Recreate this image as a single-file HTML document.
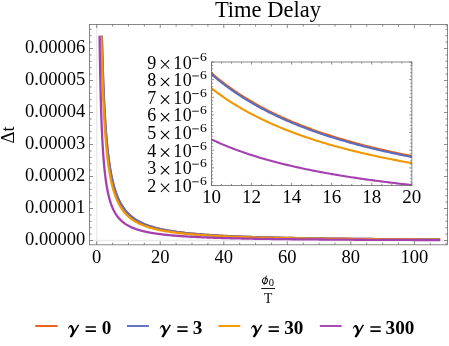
<!DOCTYPE html>
<html><head><meta charset="utf-8"><title>Time Delay</title>
<style>.ls{font-family:"Liberation Serif",serif;}html,body{margin:0;padding:0;background:#fff;}body{width:449px;height:346px;overflow:hidden;position:relative;font-family:"Liberation Serif",serif;}</style></head>
<body>
<svg width="449" height="346" viewBox="0 0 449 346" style="position:absolute;left:0;top:0;will-change:transform">
<rect x="0" y="0" width="449" height="346" fill="#fff"/>
<line x1="96.70" y1="24.5" x2="96.70" y2="244.8" stroke="#e9e9e9" stroke-width="1.3"/>
<line x1="89.5" y1="240.50" x2="447.5" y2="240.50" stroke="#e9e9e9" stroke-width="1.3"/>
<clipPath id="cm"><rect x="89.5" y="35.70" width="358.0" height="209.10"/></clipPath>
<g clip-path="url(#cm)" fill="none" stroke-width="2.3" stroke-linejoin="round">
<path d="M98.29,-438.50 L98.31,-429.52 L98.33,-420.66 L98.35,-411.91 L98.38,-403.26 L98.40,-394.73 L98.42,-386.30 L98.45,-377.98 L98.47,-369.75 L98.49,-361.64 L98.52,-353.62 L98.54,-345.71 L98.57,-337.89 L98.59,-330.17 L98.62,-322.55 L98.64,-315.02 L98.67,-307.59 L98.70,-300.26 L98.72,-293.01 L98.75,-285.86 L98.78,-278.79 L98.81,-271.82 L98.84,-264.93 L98.86,-258.13 L98.89,-251.42 L98.92,-244.79 L98.95,-238.25 L98.98,-231.79 L99.01,-225.41 L99.05,-219.11 L99.08,-212.90 L99.11,-206.76 L99.14,-200.70 L99.18,-194.72 L99.21,-188.81 L99.24,-182.98 L99.28,-177.23 L99.31,-171.55 L99.35,-165.94 L99.38,-160.40 L99.42,-154.94 L99.46,-149.54 L99.49,-144.21 L99.53,-138.96 L99.57,-133.77 L99.61,-128.64 L99.65,-123.59 L99.69,-118.60 L99.73,-113.67 L99.77,-108.81 L99.81,-104.01 L99.85,-99.27 L99.90,-94.60 L99.94,-89.98 L99.98,-85.43 L100.03,-80.93 L100.07,-76.49 L100.12,-72.11 L100.16,-67.79 L100.21,-63.53 L100.26,-59.32 L100.31,-55.16 L100.36,-51.06 L100.40,-47.01 L100.45,-43.02 L100.51,-39.08 L100.56,-35.19 L100.61,-31.35 L100.66,-27.56 L100.72,-23.83 L100.77,-20.14 L100.83,-16.50 L100.88,-12.91 L100.94,-9.36 L100.99,-5.87 L101.05,-2.41 L101.11,0.99 L101.17,4.35 L101.23,7.67 L101.29,10.94 L101.36,14.16 L101.42,17.35 L101.48,20.49 L101.55,23.59 L101.61,26.65 L101.68,29.67 L101.75,32.65 L101.81,35.59 L101.88,38.49 L101.95,41.35 L102.03,44.17 L102.10,46.95 L102.17,49.70 L102.24,52.41 L102.32,55.08 L102.40,57.72 L102.47,60.32 L102.55,62.88 L102.63,65.41 L102.71,67.91 L102.79,70.38 L102.87,72.81 L102.96,75.20 L103.04,77.57 L103.13,79.90 L103.21,82.20 L103.30,84.47 L103.39,86.71 L103.48,88.92 L103.57,91.10 L103.67,93.25 L103.76,95.37 L103.86,97.46 L103.95,99.52 L104.05,101.55 L104.15,103.56 L104.25,105.53 L104.35,107.49 L104.46,109.41 L104.56,111.31 L104.67,113.18 L104.78,115.03 L104.89,116.85 L105.00,118.64 L105.11,120.41 L105.22,122.16 L105.34,123.88 L105.46,125.58 L105.57,127.25 L105.69,128.91 L105.82,130.53 L105.94,132.14 L106.06,133.72 L106.19,135.29 L106.32,136.83 L106.45,138.35 L106.58,139.84 L106.72,141.32 L106.85,142.78 L106.99,144.21 L107.13,145.63 L107.27,147.02 L107.41,148.40 L107.56,149.76 L107.70,151.09 L107.85,152.41 L108.00,153.71 L108.16,155.00 L108.31,156.26 L108.47,157.51 L108.63,158.74 L108.79,159.95 L108.95,161.14 L109.12,162.32 L109.29,163.48 L109.46,164.63 L109.63,165.75 L109.80,166.87 L109.98,167.96 L110.16,169.04 L110.34,170.11 L110.53,171.16 L110.72,172.20 L110.90,173.22 L111.10,174.22 L111.29,175.22 L111.49,176.19 L111.69,177.16 L111.89,178.11 L112.10,179.04 L112.31,179.97 L112.52,180.88 L112.73,181.78 L112.95,182.66 L113.17,183.53 L113.39,184.39 L113.62,185.24 L113.85,186.07 L114.08,186.90 L114.31,187.71 L114.55,188.51 L114.79,189.30 L115.04,190.07 L115.29,190.84 L115.54,191.59 L115.79,192.34 L116.05,193.07 L116.31,193.79 L116.58,194.50 L116.85,195.20 L117.12,195.89 L117.40,196.58 L117.68,197.25 L117.96,197.91 L118.25,198.56 L118.54,199.20 L118.83,199.84 L119.13,200.46 L119.44,201.07 L119.75,201.68 L120.06,202.28 L120.37,202.87 L120.69,203.44 L121.02,204.02 L121.35,204.58 L121.68,205.13 L122.02,205.68 L122.36,206.22 L122.71,206.75 L123.06,207.27 L123.42,207.79 L123.78,208.29 L124.14,208.79 L124.52,209.29 L124.89,209.77 L125.27,210.25 L125.66,210.72 L126.05,211.18 L126.45,211.64 L126.85,212.09 L127.26,212.54 L127.67,212.97 L128.09,213.40 L128.52,213.83 L128.95,214.25 L129.38,214.66 L129.83,215.07 L130.28,215.46 L130.73,215.86 L131.19,216.25 L131.66,216.63 L132.13,217.01 L132.61,217.38 L133.09,217.74 L133.59,218.10 L134.09,218.46 L134.59,218.81 L135.11,219.15 L135.62,219.49 L136.15,219.82 L136.69,220.15 L137.23,220.48 L137.77,220.79 L138.33,221.11 L138.89,221.42 L139.46,221.72 L140.04,222.02 L140.63,222.32 L141.22,222.61 L141.83,222.90 L142.44,223.18 L143.06,223.46 L143.68,223.73 L144.32,224.01 L144.96,224.27 L145.62,224.53 L146.28,224.79 L146.95,225.05 L147.63,225.30 L148.32,225.54 L149.02,225.79 L149.72,226.03 L150.44,226.26 L151.17,226.49 L151.91,226.72 L152.65,226.95 L153.41,227.17 L154.18,227.39 L154.96,227.60 L155.74,227.82 L156.54,228.02 L157.35,228.23 L158.17,228.43 L159.01,228.63 L159.85,228.83 L160.70,229.02 L161.57,229.21 L162.45,229.40 L163.34,229.58 L164.24,229.77 L165.15,229.95 L166.08,230.12 L167.02,230.30 L167.97,230.47 L168.93,230.64 L169.91,230.80 L170.90,230.97 L171.90,231.13 L172.92,231.29 L173.95,231.44 L175.00,231.60 L176.06,231.75 L177.13,231.90 L178.22,232.05 L179.32,232.19 L180.44,232.33 L181.58,232.47 L182.72,232.61 L183.89,232.75 L185.07,232.88 L186.26,233.02 L187.47,233.15 L188.70,233.28 L189.95,233.40 L191.21,233.53 L192.49,233.65 L193.78,233.77 L195.10,233.89 L196.43,234.01 L197.78,234.12 L199.15,234.24 L200.53,234.35 L201.94,234.46 L203.36,234.57 L204.81,234.68 L206.27,234.78 L207.75,234.89 L209.25,234.99 L210.78,235.09 L212.32,235.19 L213.88,235.29 L215.47,235.39 L217.08,235.48 L218.71,235.58 L220.36,235.67 L222.03,235.76 L223.73,235.85 L225.45,235.93 L227.19,236.02 L228.95,236.10 L230.74,236.18 L232.56,236.26 L234.39,236.33 L236.26,236.41 L238.15,236.48 L240.06,236.56 L242.00,236.63 L243.97,236.70 L245.96,236.77 L247.98,236.84 L250.03,236.90 L252.10,236.97 L254.20,237.04 L256.33,237.10 L258.49,237.16 L260.68,237.23 L262.90,237.29 L265.15,237.35 L267.43,237.41 L269.74,237.47 L272.08,237.52 L274.46,237.58 L276.86,237.63 L279.30,237.69 L281.77,237.74 L284.27,237.80 L286.81,237.85 L289.38,237.90 L291.99,237.95 L294.63,238.00 L297.31,238.05 L300.03,238.09 L302.78,238.14 L305.57,238.19 L308.39,238.23 L311.26,238.28 L314.16,238.32 L317.10,238.37 L320.09,238.41 L323.11,238.45 L326.17,238.49 L329.28,238.53 L332.42,238.57 L335.61,238.61 L338.85,238.65 L342.12,238.69 L345.44,238.72 L348.81,238.76 L352.22,238.80 L355.68,238.83 L359.18,238.87 L362.73,238.90 L366.33,238.94 L369.98,238.97 L373.68,239.00 L377.43,239.03 L381.23,239.06 L385.08,239.10 L388.98,239.13 L392.93,239.16 L396.94,239.19 L401.00,239.21 L405.12,239.24 L409.30,239.27 L413.53,239.30 L417.81,239.33 L422.16,239.35 L426.56,239.38 L431.02,239.40 L435.55,239.43 L440.13,239.45" stroke="#E65C0E"/>
<path d="M98.29,-453.71 L98.31,-444.44 L98.33,-435.29 L98.35,-426.25 L98.38,-417.33 L98.40,-408.52 L98.42,-399.83 L98.45,-391.24 L98.47,-382.76 L98.49,-374.38 L98.52,-366.12 L98.54,-357.95 L98.57,-349.89 L98.59,-341.94 L98.62,-334.08 L98.64,-326.33 L98.67,-318.67 L98.70,-311.11 L98.72,-303.64 L98.75,-296.28 L98.78,-289.00 L98.81,-281.82 L98.84,-274.73 L98.86,-267.73 L98.89,-260.82 L98.92,-254.00 L98.95,-247.27 L98.98,-240.62 L99.01,-234.06 L99.05,-227.58 L99.08,-221.19 L99.11,-214.88 L99.14,-208.65 L99.18,-202.50 L99.21,-196.43 L99.24,-190.44 L99.28,-184.52 L99.31,-178.69 L99.35,-172.93 L99.38,-167.24 L99.42,-161.63 L99.46,-156.09 L99.49,-150.62 L99.53,-145.22 L99.57,-139.90 L99.61,-134.64 L99.65,-129.45 L99.69,-124.33 L99.73,-119.28 L99.77,-114.29 L99.81,-109.37 L99.85,-104.51 L99.90,-99.72 L99.94,-94.99 L99.98,-90.32 L100.03,-85.71 L100.07,-81.16 L100.12,-76.68 L100.16,-72.25 L100.21,-67.88 L100.26,-63.57 L100.31,-59.32 L100.36,-55.12 L100.40,-50.98 L100.45,-46.89 L100.51,-42.86 L100.56,-38.88 L100.61,-34.95 L100.66,-31.08 L100.72,-27.25 L100.77,-23.48 L100.83,-19.76 L100.88,-16.09 L100.94,-12.47 L100.99,-8.89 L101.05,-5.37 L101.11,-1.89 L101.17,1.55 L101.23,4.93 L101.29,8.27 L101.36,11.57 L101.42,14.82 L101.48,18.03 L101.55,21.19 L101.61,24.32 L101.68,27.40 L101.75,30.43 L101.81,33.43 L101.88,36.39 L101.95,39.30 L102.03,42.18 L102.10,45.02 L102.17,47.82 L102.24,50.58 L102.32,53.30 L102.40,55.99 L102.47,58.64 L102.55,61.26 L102.63,63.83 L102.71,66.38 L102.79,68.89 L102.87,71.36 L102.96,73.80 L103.04,76.21 L103.13,78.58 L103.21,80.92 L103.30,83.23 L103.39,85.51 L103.48,87.76 L103.57,89.97 L103.67,92.16 L103.76,94.31 L103.86,96.44 L103.95,98.53 L104.05,100.60 L104.15,102.64 L104.25,104.65 L104.35,106.63 L104.46,108.58 L104.56,110.51 L104.67,112.41 L104.78,114.28 L104.89,116.13 L105.00,117.95 L105.11,119.75 L105.22,121.52 L105.34,123.27 L105.46,124.99 L105.57,126.69 L105.69,128.37 L105.82,130.02 L105.94,131.65 L106.06,133.25 L106.19,134.83 L106.32,136.40 L106.45,137.93 L106.58,139.45 L106.72,140.95 L106.85,142.42 L106.99,143.88 L107.13,145.31 L107.27,146.72 L107.41,148.12 L107.56,149.49 L107.70,150.84 L107.85,152.18 L108.00,153.49 L108.16,154.79 L108.31,156.07 L108.47,157.33 L108.63,158.57 L108.79,159.80 L108.95,161.00 L109.12,162.20 L109.29,163.37 L109.46,164.53 L109.63,165.67 L109.80,166.79 L109.98,167.90 L110.16,168.99 L110.34,170.06 L110.53,171.12 L110.72,172.17 L110.90,173.20 L111.10,174.22 L111.29,175.22 L111.49,176.20 L111.69,177.18 L111.89,178.13 L112.10,179.08 L112.31,180.01 L112.52,180.93 L112.73,181.83 L112.95,182.72 L113.17,183.60 L113.39,184.47 L113.62,185.32 L113.85,186.16 L114.08,186.99 L114.31,187.81 L114.55,188.61 L114.79,189.41 L115.04,190.19 L115.29,190.96 L115.54,191.72 L115.79,192.47 L116.05,193.20 L116.31,193.93 L116.58,194.64 L116.85,195.35 L117.12,196.05 L117.40,196.73 L117.68,197.40 L117.96,198.07 L118.25,198.72 L118.54,199.37 L118.83,200.01 L119.13,200.63 L119.44,201.25 L119.75,201.86 L120.06,202.46 L120.37,203.05 L120.69,203.63 L121.02,204.20 L121.35,204.77 L121.68,205.32 L122.02,205.87 L122.36,206.41 L122.71,206.94 L123.06,207.47 L123.42,207.98 L123.78,208.49 L124.14,208.99 L124.52,209.49 L124.89,209.97 L125.27,210.45 L125.66,210.92 L126.05,211.39 L126.45,211.85 L126.85,212.30 L127.26,212.74 L127.67,213.18 L128.09,213.61 L128.52,214.04 L128.95,214.46 L129.38,214.87 L129.83,215.27 L130.28,215.67 L130.73,216.07 L131.19,216.46 L131.66,216.84 L132.13,217.21 L132.61,217.58 L133.09,217.95 L133.59,218.31 L134.09,218.66 L134.59,219.01 L135.11,219.36 L135.62,219.70 L136.15,220.03 L136.69,220.36 L137.23,220.68 L137.77,221.00 L138.33,221.31 L138.89,221.62 L139.46,221.93 L140.04,222.23 L140.63,222.52 L141.22,222.81 L141.83,223.10 L142.44,223.38 L143.06,223.66 L143.68,223.93 L144.32,224.20 L144.96,224.47 L145.62,224.73 L146.28,224.98 L146.95,225.24 L147.63,225.49 L148.32,225.73 L149.02,225.97 L149.72,226.21 L150.44,226.45 L151.17,226.68 L151.91,226.91 L152.65,227.13 L153.41,227.35 L154.18,227.57 L154.96,227.78 L155.74,227.99 L156.54,228.20 L157.35,228.41 L158.17,228.61 L159.01,228.81 L159.85,229.00 L160.70,229.19 L161.57,229.38 L162.45,229.57 L163.34,229.75 L164.24,229.93 L165.15,230.11 L166.08,230.29 L167.02,230.46 L167.97,230.63 L168.93,230.80 L169.91,230.96 L170.90,231.12 L171.90,231.28 L172.92,231.44 L173.95,231.60 L175.00,231.75 L176.06,231.90 L177.13,232.05 L178.22,232.19 L179.32,232.34 L180.44,232.48 L181.58,232.62 L182.72,232.76 L183.89,232.89 L185.07,233.02 L186.26,233.16 L187.47,233.28 L188.70,233.41 L189.95,233.54 L191.21,233.66 L192.49,233.78 L193.78,233.90 L195.10,234.02 L196.43,234.14 L197.78,234.25 L199.15,234.36 L200.53,234.48 L201.94,234.58 L203.36,234.69 L204.81,234.80 L206.27,234.90 L207.75,235.01 L209.25,235.11 L210.78,235.21 L212.32,235.31 L213.88,235.40 L215.47,235.50 L217.08,235.59 L218.71,235.69 L220.36,235.78 L222.03,235.87 L223.73,235.96 L225.45,236.04 L227.19,236.12 L228.95,236.20 L230.74,236.28 L232.56,236.36 L234.39,236.43 L236.26,236.51 L238.15,236.58 L240.06,236.65 L242.00,236.72 L243.97,236.79 L245.96,236.86 L247.98,236.93 L250.03,237.00 L252.10,237.06 L254.20,237.13 L256.33,237.19 L258.49,237.25 L260.68,237.31 L262.90,237.37 L265.15,237.43 L267.43,237.49 L269.74,237.55 L272.08,237.60 L274.46,237.66 L276.86,237.71 L279.30,237.77 L281.77,237.82 L284.27,237.87 L286.81,237.92 L289.38,237.97 L291.99,238.02 L294.63,238.07 L297.31,238.12 L300.03,238.17 L302.78,238.21 L305.57,238.26 L308.39,238.30 L311.26,238.35 L314.16,238.39 L317.10,238.43 L320.09,238.47 L323.11,238.52 L326.17,238.56 L329.28,238.60 L332.42,238.63 L335.61,238.67 L338.85,238.71 L342.12,238.75 L345.44,238.78 L348.81,238.82 L352.22,238.86 L355.68,238.89 L359.18,238.92 L362.73,238.96 L366.33,238.99 L369.98,239.02 L373.68,239.05 L377.43,239.09 L381.23,239.12 L385.08,239.15 L388.98,239.18 L392.93,239.21 L396.94,239.23 L401.00,239.26 L405.12,239.29 L409.30,239.32 L413.53,239.35 L417.81,239.37 L422.16,239.40 L426.56,239.42 L431.02,239.45 L435.55,239.47 L440.13,239.50" stroke="#5D6DC1"/>
<path d="M98.29,-385.59 L98.31,-377.24 L98.33,-368.99 L98.35,-360.85 L98.38,-352.81 L98.40,-344.88 L98.42,-337.04 L98.45,-329.30 L98.47,-321.66 L98.49,-314.11 L98.52,-306.66 L98.54,-299.31 L98.57,-292.05 L98.59,-284.88 L98.62,-277.80 L98.64,-270.81 L98.67,-263.91 L98.70,-257.09 L98.72,-250.37 L98.75,-243.73 L98.78,-237.17 L98.81,-230.70 L98.84,-224.31 L98.86,-218.00 L98.89,-211.77 L98.92,-205.63 L98.95,-199.56 L98.98,-193.57 L99.01,-187.65 L99.05,-181.82 L99.08,-176.05 L99.11,-170.36 L99.14,-164.75 L99.18,-159.21 L99.21,-153.74 L99.24,-148.33 L99.28,-143.00 L99.31,-137.74 L99.35,-132.55 L99.38,-127.42 L99.42,-122.36 L99.46,-117.37 L99.49,-112.44 L99.53,-107.57 L99.57,-102.77 L99.61,-98.03 L99.65,-93.35 L99.69,-88.74 L99.73,-84.18 L99.77,-79.69 L99.81,-75.25 L99.85,-70.87 L99.90,-66.55 L99.94,-62.28 L99.98,-58.07 L100.03,-53.92 L100.07,-49.82 L100.12,-45.77 L100.16,-41.78 L100.21,-37.84 L100.26,-33.95 L100.31,-30.12 L100.36,-26.33 L100.40,-22.60 L100.45,-18.91 L100.51,-15.28 L100.56,-11.69 L100.61,-8.15 L100.66,-4.65 L100.72,-1.20 L100.77,2.20 L100.83,5.55 L100.88,8.87 L100.94,12.13 L100.99,15.36 L101.05,18.54 L101.11,21.67 L101.17,24.77 L101.23,27.82 L101.29,30.84 L101.36,33.81 L101.42,36.74 L101.48,39.64 L101.55,42.49 L101.61,45.31 L101.68,48.09 L101.75,50.83 L101.81,53.53 L101.88,56.20 L101.95,58.83 L102.03,61.43 L102.10,63.99 L102.17,66.51 L102.24,69.00 L102.32,71.46 L102.40,73.88 L102.47,76.28 L102.55,78.63 L102.63,80.96 L102.71,83.26 L102.79,85.52 L102.87,87.75 L102.96,89.95 L103.04,92.12 L103.13,94.27 L103.21,96.38 L103.30,98.46 L103.39,100.52 L103.48,102.54 L103.57,104.54 L103.67,106.52 L103.76,108.46 L103.86,110.38 L103.95,112.27 L104.05,114.13 L104.15,115.97 L104.25,117.79 L104.35,119.57 L104.46,121.34 L104.56,123.08 L104.67,124.79 L104.78,126.48 L104.89,128.15 L105.00,129.80 L105.11,131.42 L105.22,133.02 L105.34,134.59 L105.46,136.15 L105.57,137.68 L105.69,139.19 L105.82,140.69 L105.94,142.16 L106.06,143.60 L106.19,145.03 L106.32,146.44 L106.45,147.83 L106.58,149.20 L106.72,150.55 L106.85,151.88 L106.99,153.19 L107.13,154.49 L107.27,155.76 L107.41,157.02 L107.56,158.26 L107.70,159.48 L107.85,160.69 L108.00,161.88 L108.16,163.05 L108.31,164.20 L108.47,165.34 L108.63,166.46 L108.79,167.57 L108.95,168.66 L109.12,169.73 L109.29,170.79 L109.46,171.84 L109.63,172.87 L109.80,173.88 L109.98,174.88 L110.16,175.87 L110.34,176.84 L110.53,177.80 L110.72,178.74 L110.90,179.67 L111.10,180.59 L111.29,181.49 L111.49,182.38 L111.69,183.26 L111.89,184.13 L112.10,184.98 L112.31,185.82 L112.52,186.65 L112.73,187.47 L112.95,188.27 L113.17,189.07 L113.39,189.85 L113.62,190.62 L113.85,191.38 L114.08,192.13 L114.31,192.86 L114.55,193.59 L114.79,194.31 L115.04,195.01 L115.29,195.71 L115.54,196.40 L115.79,197.07 L116.05,197.74 L116.31,198.39 L116.58,199.04 L116.85,199.68 L117.12,200.31 L117.40,200.92 L117.68,201.53 L117.96,202.14 L118.25,202.73 L118.54,203.31 L118.83,203.88 L119.13,204.45 L119.44,205.01 L119.75,205.56 L120.06,206.10 L120.37,206.63 L120.69,207.16 L121.02,207.68 L121.35,208.19 L121.68,208.69 L122.02,209.19 L122.36,209.67 L122.71,210.15 L123.06,210.63 L123.42,211.10 L123.78,211.56 L124.14,212.01 L124.52,212.45 L124.89,212.89 L125.27,213.33 L125.66,213.75 L126.05,214.17 L126.45,214.59 L126.85,215.00 L127.26,215.40 L127.67,215.79 L128.09,216.18 L128.52,216.57 L128.95,216.95 L129.38,217.32 L129.83,217.69 L130.28,218.05 L130.73,218.40 L131.19,218.75 L131.66,219.10 L132.13,219.44 L132.61,219.77 L133.09,220.11 L133.59,220.43 L134.09,220.75 L134.59,221.07 L135.11,221.38 L135.62,221.68 L136.15,221.99 L136.69,222.28 L137.23,222.57 L137.77,222.86 L138.33,223.15 L138.89,223.43 L139.46,223.70 L140.04,223.97 L140.63,224.24 L141.22,224.50 L141.83,224.76 L142.44,225.02 L143.06,225.27 L143.68,225.52 L144.32,225.76 L144.96,226.00 L145.62,226.24 L146.28,226.47 L146.95,226.70 L147.63,226.92 L148.32,227.15 L149.02,227.37 L149.72,227.58 L150.44,227.79 L151.17,228.00 L151.91,228.21 L152.65,228.41 L153.41,228.61 L154.18,228.81 L154.96,229.00 L155.74,229.19 L156.54,229.38 L157.35,229.57 L158.17,229.75 L159.01,229.93 L159.85,230.10 L160.70,230.28 L161.57,230.45 L162.45,230.62 L163.34,230.79 L164.24,230.95 L165.15,231.11 L166.08,231.27 L167.02,231.43 L167.97,231.58 L168.93,231.73 L169.91,231.88 L170.90,232.03 L171.90,232.17 L172.92,232.32 L173.95,232.46 L175.00,232.60 L176.06,232.73 L177.13,232.87 L178.22,233.00 L179.32,233.13 L180.44,233.26 L181.58,233.38 L182.72,233.51 L183.89,233.63 L185.07,233.75 L186.26,233.87 L187.47,233.99 L188.70,234.10 L189.95,234.22 L191.21,234.33 L192.49,234.44 L193.78,234.55 L195.10,234.66 L196.43,234.76 L197.78,234.87 L199.15,234.97 L200.53,235.07 L201.94,235.17 L203.36,235.27 L204.81,235.36 L206.27,235.46 L207.75,235.55 L209.25,235.65 L210.78,235.74 L212.32,235.83 L213.88,235.91 L215.47,236.00 L217.08,236.09 L218.71,236.17 L220.36,236.26 L222.03,236.34 L223.73,236.42 L225.45,236.49 L227.19,236.57 L228.95,236.64 L230.74,236.71 L232.56,236.78 L234.39,236.85 L236.26,236.92 L238.15,236.98 L240.06,237.05 L242.00,237.11 L243.97,237.18 L245.96,237.24 L247.98,237.30 L250.03,237.36 L252.10,237.42 L254.20,237.48 L256.33,237.53 L258.49,237.59 L260.68,237.65 L262.90,237.70 L265.15,237.75 L267.43,237.81 L269.74,237.86 L272.08,237.91 L274.46,237.96 L276.86,238.01 L279.30,238.06 L281.77,238.11 L284.27,238.15 L286.81,238.20 L289.38,238.24 L291.99,238.29 L294.63,238.33 L297.31,238.38 L300.03,238.42 L302.78,238.46 L305.57,238.50 L308.39,238.54 L311.26,238.58 L314.16,238.62 L317.10,238.66 L320.09,238.70 L323.11,238.73 L326.17,238.77 L329.28,238.81 L332.42,238.84 L335.61,238.88 L338.85,238.91 L342.12,238.94 L345.44,238.98 L348.81,239.01 L352.22,239.04 L355.68,239.07 L359.18,239.10 L362.73,239.13 L366.33,239.16 L369.98,239.19 L373.68,239.22 L377.43,239.25 L381.23,239.28 L385.08,239.31 L388.98,239.33 L392.93,239.36 L396.94,239.39 L401.00,239.41 L405.12,239.44 L409.30,239.46 L413.53,239.49 L417.81,239.51 L422.16,239.53 L426.56,239.56 L431.02,239.58 L435.55,239.60 L440.13,239.62" stroke="#F19700"/>
<path d="M98.29,-128.14 L98.31,-123.29 L98.33,-118.50 L98.35,-113.77 L98.38,-109.10 L98.40,-104.49 L98.42,-99.93 L98.45,-95.44 L98.47,-90.99 L98.49,-86.61 L98.52,-82.27 L98.54,-77.99 L98.57,-73.77 L98.59,-69.60 L98.62,-65.47 L98.64,-61.41 L98.67,-57.39 L98.70,-53.42 L98.72,-49.50 L98.75,-45.63 L98.78,-41.81 L98.81,-38.04 L98.84,-34.31 L98.86,-30.63 L98.89,-27.00 L98.92,-23.42 L98.95,-19.87 L98.98,-16.38 L99.01,-12.93 L99.05,-9.52 L99.08,-6.15 L99.11,-2.83 L99.14,0.45 L99.18,3.69 L99.21,6.89 L99.24,10.04 L99.28,13.16 L99.31,16.24 L99.35,19.28 L99.38,22.27 L99.42,25.24 L99.46,28.16 L99.49,31.04 L99.53,33.89 L99.57,36.70 L99.61,39.48 L99.65,42.22 L99.69,44.92 L99.73,47.59 L99.77,50.23 L99.81,52.83 L99.85,55.40 L99.90,57.94 L99.94,60.44 L99.98,62.91 L100.03,65.35 L100.07,67.75 L100.12,70.13 L100.16,72.47 L100.21,74.78 L100.26,77.07 L100.31,79.32 L100.36,81.55 L100.40,83.74 L100.45,85.91 L100.51,88.05 L100.56,90.16 L100.61,92.24 L100.66,94.30 L100.72,96.33 L100.77,98.33 L100.83,100.30 L100.88,102.25 L100.94,104.18 L100.99,106.08 L101.05,107.95 L101.11,109.80 L101.17,111.63 L101.23,113.43 L101.29,115.20 L101.36,116.96 L101.42,118.69 L101.48,120.40 L101.55,122.08 L101.61,123.74 L101.68,125.38 L101.75,127.00 L101.81,128.60 L101.88,130.17 L101.95,131.73 L102.03,133.26 L102.10,134.77 L102.17,136.27 L102.24,137.74 L102.32,139.19 L102.40,140.63 L102.47,142.04 L102.55,143.44 L102.63,144.82 L102.71,146.17 L102.79,147.51 L102.87,148.84 L102.96,150.14 L103.04,151.43 L103.13,152.70 L103.21,153.95 L103.30,155.18 L103.39,156.40 L103.48,157.61 L103.57,158.79 L103.67,159.96 L103.76,161.11 L103.86,162.25 L103.95,163.38 L104.05,164.48 L104.15,165.58 L104.25,166.65 L104.35,167.72 L104.46,168.76 L104.56,169.80 L104.67,170.82 L104.78,171.82 L104.89,172.81 L105.00,173.79 L105.11,174.76 L105.22,175.71 L105.34,176.65 L105.46,177.57 L105.57,178.49 L105.69,179.39 L105.82,180.27 L105.94,181.15 L106.06,182.01 L106.19,182.87 L106.32,183.71 L106.45,184.53 L106.58,185.35 L106.72,186.16 L106.85,186.95 L106.99,187.73 L107.13,188.51 L107.27,189.27 L107.41,190.02 L107.56,190.76 L107.70,191.49 L107.85,192.21 L108.00,192.92 L108.16,193.62 L108.31,194.31 L108.47,194.99 L108.63,195.66 L108.79,196.32 L108.95,196.97 L109.12,197.62 L109.29,198.25 L109.46,198.88 L109.63,199.49 L109.80,200.10 L109.98,200.70 L110.16,201.29 L110.34,201.87 L110.53,202.45 L110.72,203.01 L110.90,203.57 L111.10,204.12 L111.29,204.66 L111.49,205.20 L111.69,205.72 L111.89,206.24 L112.10,206.75 L112.31,207.26 L112.52,207.76 L112.73,208.25 L112.95,208.73 L113.17,209.21 L113.39,209.68 L113.62,210.14 L113.85,210.60 L114.08,211.05 L114.31,211.49 L114.55,211.93 L114.79,212.36 L115.04,212.79 L115.29,213.21 L115.54,213.62 L115.79,214.03 L116.05,214.43 L116.31,214.83 L116.58,215.22 L116.85,215.60 L117.12,215.98 L117.40,216.35 L117.68,216.72 L117.96,217.08 L118.25,217.44 L118.54,217.79 L118.83,218.14 L119.13,218.48 L119.44,218.82 L119.75,219.15 L120.06,219.48 L120.37,219.80 L120.69,220.12 L121.02,220.43 L121.35,220.74 L121.68,221.05 L122.02,221.35 L122.36,221.64 L122.71,221.93 L123.06,222.22 L123.42,222.50 L123.78,222.78 L124.14,223.06 L124.52,223.33 L124.89,223.59 L125.27,223.86 L125.66,224.11 L126.05,224.37 L126.45,224.62 L126.85,224.87 L127.26,225.11 L127.67,225.35 L128.09,225.59 L128.52,225.82 L128.95,226.05 L129.38,226.28 L129.83,226.50 L130.28,226.72 L130.73,226.94 L131.19,227.15 L131.66,227.37 L132.13,227.57 L132.61,227.78 L133.09,227.98 L133.59,228.18 L134.09,228.37 L134.59,228.56 L135.11,228.75 L135.62,228.94 L136.15,229.13 L136.69,229.31 L137.23,229.49 L137.77,229.66 L138.33,229.84 L138.89,230.01 L139.46,230.17 L140.04,230.34 L140.63,230.50 L141.22,230.67 L141.83,230.82 L142.44,230.98 L143.06,231.13 L143.68,231.29 L144.32,231.44 L144.96,231.58 L145.62,231.73 L146.28,231.87 L146.95,232.01 L147.63,232.15 L148.32,232.29 L149.02,232.42 L149.72,232.55 L150.44,232.69 L151.17,232.81 L151.91,232.94 L152.65,233.07 L153.41,233.19 L154.18,233.31 L154.96,233.43 L155.74,233.55 L156.54,233.66 L157.35,233.78 L158.17,233.89 L159.01,234.00 L159.85,234.11 L160.70,234.22 L161.57,234.33 L162.45,234.43 L163.34,234.53 L164.24,234.64 L165.15,234.74 L166.08,234.83 L167.02,234.93 L167.97,235.03 L168.93,235.12 L169.91,235.21 L170.90,235.31 L171.90,235.40 L172.92,235.49 L173.95,235.57 L175.00,235.66 L176.06,235.74 L177.13,235.83 L178.22,235.91 L179.32,235.99 L180.44,236.07 L181.58,236.15 L182.72,236.23 L183.89,236.31 L185.07,236.38 L186.26,236.46 L187.47,236.53 L188.70,236.60 L189.95,236.68 L191.21,236.75 L192.49,236.82 L193.78,236.88 L195.10,236.95 L196.43,237.02 L197.78,237.09 L199.15,237.15 L200.53,237.21 L201.94,237.28 L203.36,237.34 L204.81,237.40 L206.27,237.46 L207.75,237.52 L209.25,237.58 L210.78,237.64 L212.32,237.70 L213.88,237.75 L215.47,237.81 L217.08,237.86 L218.71,237.92 L220.36,237.97 L222.03,238.02 L223.73,238.08 L225.45,238.12 L227.19,238.17 L228.95,238.21 L230.74,238.26 L232.56,238.30 L234.39,238.34 L236.26,238.38 L238.15,238.42 L240.06,238.47 L242.00,238.51 L243.97,238.54 L245.96,238.58 L247.98,238.62 L250.03,238.66 L252.10,238.70 L254.20,238.73 L256.33,238.77 L258.49,238.80 L260.68,238.84 L262.90,238.87 L265.15,238.90 L267.43,238.94 L269.74,238.97 L272.08,239.00 L274.46,239.03 L276.86,239.06 L279.30,239.09 L281.77,239.12 L284.27,239.15 L286.81,239.18 L289.38,239.21 L291.99,239.24 L294.63,239.26 L297.31,239.29 L300.03,239.32 L302.78,239.34 L305.57,239.37 L308.39,239.39 L311.26,239.42 L314.16,239.44 L317.10,239.47 L320.09,239.49 L323.11,239.51 L326.17,239.54 L329.28,239.56 L332.42,239.58 L335.61,239.60 L338.85,239.62 L342.12,239.65 L345.44,239.67 L348.81,239.69 L352.22,239.71 L355.68,239.73 L359.18,239.75 L362.73,239.76 L366.33,239.78 L369.98,239.80 L373.68,239.82 L377.43,239.84 L381.23,239.86 L385.08,239.87 L388.98,239.89 L392.93,239.91 L396.94,239.92 L401.00,239.94 L405.12,239.95 L409.30,239.97 L413.53,239.98 L417.81,240.00 L422.16,240.01 L426.56,240.03 L431.02,240.04 L435.55,240.06 L440.13,240.07" stroke="#A541AF"/>
</g>
<rect x="89.5" y="24.5" width="358.0" height="220.3" fill="none" stroke="#666666" stroke-width="0.78"/>
<path d="M96.70,244.8 v-3.5 M96.70,24.5 v3.5 M112.59,244.8 v-2.1 M112.59,24.5 v2.1 M128.47,244.8 v-2.1 M128.47,24.5 v2.1 M144.36,244.8 v-2.1 M144.36,24.5 v2.1 M160.24,244.8 v-3.5 M160.24,24.5 v3.5 M176.12,244.8 v-2.1 M176.12,24.5 v2.1 M192.01,244.8 v-2.1 M192.01,24.5 v2.1 M207.90,244.8 v-2.1 M207.90,24.5 v2.1 M223.78,244.8 v-3.5 M223.78,24.5 v3.5 M239.67,244.8 v-2.1 M239.67,24.5 v2.1 M255.55,244.8 v-2.1 M255.55,24.5 v2.1 M271.44,244.8 v-2.1 M271.44,24.5 v2.1 M287.32,244.8 v-3.5 M287.32,24.5 v3.5 M303.20,244.8 v-2.1 M303.20,24.5 v2.1 M319.09,244.8 v-2.1 M319.09,24.5 v2.1 M334.98,244.8 v-2.1 M334.98,24.5 v2.1 M350.86,244.8 v-3.5 M350.86,24.5 v3.5 M366.75,244.8 v-2.1 M366.75,24.5 v2.1 M382.63,244.8 v-2.1 M382.63,24.5 v2.1 M398.51,244.8 v-2.1 M398.51,24.5 v2.1 M414.40,244.8 v-3.5 M414.40,24.5 v3.5 M430.28,244.8 v-2.1 M430.28,24.5 v2.1 M446.17,244.8 v-2.1 M446.17,24.5 v2.1 M89.5,240.50 h3.5 M447.5,240.50 h-3.5 M89.5,234.10 h2.1 M447.5,234.10 h-2.1 M89.5,227.70 h2.1 M447.5,227.70 h-2.1 M89.5,221.30 h2.1 M447.5,221.30 h-2.1 M89.5,214.90 h2.1 M447.5,214.90 h-2.1 M89.5,208.50 h3.5 M447.5,208.50 h-3.5 M89.5,202.10 h2.1 M447.5,202.10 h-2.1 M89.5,195.70 h2.1 M447.5,195.70 h-2.1 M89.5,189.30 h2.1 M447.5,189.30 h-2.1 M89.5,182.90 h2.1 M447.5,182.90 h-2.1 M89.5,176.50 h3.5 M447.5,176.50 h-3.5 M89.5,170.10 h2.1 M447.5,170.10 h-2.1 M89.5,163.70 h2.1 M447.5,163.70 h-2.1 M89.5,157.30 h2.1 M447.5,157.30 h-2.1 M89.5,150.90 h2.1 M447.5,150.90 h-2.1 M89.5,144.50 h3.5 M447.5,144.50 h-3.5 M89.5,138.10 h2.1 M447.5,138.10 h-2.1 M89.5,131.70 h2.1 M447.5,131.70 h-2.1 M89.5,125.30 h2.1 M447.5,125.30 h-2.1 M89.5,118.90 h2.1 M447.5,118.90 h-2.1 M89.5,112.50 h3.5 M447.5,112.50 h-3.5 M89.5,106.10 h2.1 M447.5,106.10 h-2.1 M89.5,99.70 h2.1 M447.5,99.70 h-2.1 M89.5,93.30 h2.1 M447.5,93.30 h-2.1 M89.5,86.90 h2.1 M447.5,86.90 h-2.1 M89.5,80.50 h3.5 M447.5,80.50 h-3.5 M89.5,74.10 h2.1 M447.5,74.10 h-2.1 M89.5,67.70 h2.1 M447.5,67.70 h-2.1 M89.5,61.30 h2.1 M447.5,61.30 h-2.1 M89.5,54.90 h2.1 M447.5,54.90 h-2.1 M89.5,48.50 h3.5 M447.5,48.50 h-3.5 M89.5,42.10 h2.1 M447.5,42.10 h-2.1 M89.5,35.70 h2.1 M447.5,35.70 h-2.1 M89.5,29.30 h2.1 M447.5,29.30 h-2.1" stroke="#666666" stroke-width="0.75" fill="none"/>
<g class="ls" font-size="18.5" fill="#000">
<text x="96.70" y="263" text-anchor="middle">0</text>
<text x="160.24" y="263" text-anchor="middle">20</text>
<text x="223.78" y="263" text-anchor="middle">40</text>
<text x="287.32" y="263" text-anchor="middle">60</text>
<text x="350.86" y="263" text-anchor="middle">80</text>
<text x="414.40" y="263" text-anchor="middle">100</text>
<text x="85.2" y="245.30" text-anchor="end">0.00000</text>
<text x="85.2" y="213.30" text-anchor="end">0.00001</text>
<text x="85.2" y="181.30" text-anchor="end">0.00002</text>
<text x="85.2" y="149.30" text-anchor="end">0.00003</text>
<text x="85.2" y="117.30" text-anchor="end">0.00004</text>
<text x="85.2" y="85.30" text-anchor="end">0.00005</text>
<text x="85.2" y="53.30" text-anchor="end">0.00006</text>
</g>
<text x="267.9" y="16.9" text-anchor="middle" class="ls" font-size="22.5" fill="#000">Time Delay</text>
<text transform="translate(13.8,143.4) rotate(-90)" class="ls" font-size="18.5" fill="#000">Δt</text>
<g class="ls" fill="#000">
<ellipse cx="264.95" cy="280.7" rx="2.45" ry="2.8" transform="rotate(14 264.95 280.7)" fill="none" stroke="#000" stroke-width="0.95"/>
<path d="M266.45,275.6 L264.0,285.1" stroke="#000" stroke-width="0.8" fill="none"/>
<text x="268.75" y="285.8" font-size="10.5">0</text>
<line x1="261.2" y1="288.5" x2="275" y2="288.5" stroke="#000" stroke-width="0.9"/>
<text x="268.1" y="302.5" font-size="13.6" text-anchor="middle">T</text>
</g>
<rect x="211.5" y="62.0" width="200.35000000000002" height="123.5" fill="#fff"/>
<clipPath id="ci"><rect x="211.5" y="62.0" width="200.35000000000002" height="123.5"/></clipPath>
<g clip-path="url(#ci)" fill="none" stroke-width="2.1" stroke-linejoin="round">
<path d="M209.50,71.46 L210.91,72.69 L212.33,73.91 L213.76,75.12 L215.20,76.33 L216.65,77.52 L218.11,78.70 L219.58,79.87 L221.06,81.04 L222.55,82.19 L224.05,83.34 L225.57,84.48 L227.09,85.61 L228.62,86.72 L230.17,87.84 L231.73,88.94 L233.29,90.03 L234.87,91.11 L236.46,92.19 L238.06,93.26 L239.68,94.31 L241.30,95.36 L242.94,96.41 L244.58,97.44 L246.24,98.46 L247.91,99.48 L249.60,100.49 L251.29,101.49 L253.00,102.48 L254.72,103.47 L256.45,104.45 L258.19,105.42 L259.95,106.38 L261.71,107.33 L263.50,108.28 L265.29,109.22 L267.09,110.15 L268.91,111.07 L270.75,111.99 L272.59,112.90 L274.45,113.80 L276.32,114.70 L278.20,115.58 L280.10,116.46 L282.01,117.34 L283.94,118.20 L285.88,119.06 L287.83,119.91 L289.80,120.76 L291.78,121.60 L293.77,122.43 L295.78,123.26 L297.80,124.08 L299.84,124.89 L301.89,125.69 L303.96,126.49 L306.04,127.29 L308.13,128.07 L310.25,128.85 L312.37,129.63 L314.51,130.39 L316.67,131.15 L318.84,131.91 L321.03,132.66 L323.23,133.40 L325.45,134.14 L327.68,134.87 L329.93,135.59 L332.20,136.31 L334.48,137.03 L336.77,137.74 L339.09,138.44 L341.42,139.13 L343.77,139.82 L346.13,140.51 L348.51,141.19 L350.91,141.86 L353.32,142.53 L355.76,143.19 L358.20,143.85 L360.67,144.50 L363.16,145.15 L365.66,145.79 L368.18,146.43 L370.71,147.06 L373.27,147.69 L375.84,148.31 L378.43,148.92 L381.04,149.54 L383.67,150.14 L386.32,150.74 L388.99,151.34 L391.67,151.93 L394.38,152.52 L397.10,153.10 L399.84,153.67 L402.61,154.25 L405.39,154.81 L408.19,155.38 L411.01,155.94 L413.85,156.49" stroke="#E65C0E"/>
<path d="M209.50,72.60 L210.91,73.84 L212.33,75.06 L213.76,76.27 L215.20,77.47 L216.65,78.67 L218.11,79.85 L219.58,81.02 L221.06,82.19 L222.55,83.35 L224.05,84.49 L225.57,85.63 L227.09,86.76 L228.62,87.88 L230.17,88.99 L231.73,90.09 L233.29,91.18 L234.87,92.26 L236.46,93.34 L238.06,94.40 L239.68,95.46 L241.30,96.51 L242.94,97.55 L244.58,98.59 L246.24,99.61 L247.91,100.63 L249.60,101.63 L251.29,102.63 L253.00,103.62 L254.72,104.61 L256.45,105.58 L258.19,106.55 L259.95,107.51 L261.71,108.47 L263.50,109.41 L265.29,110.35 L267.09,111.28 L268.91,112.20 L270.75,113.11 L272.59,114.02 L274.45,114.92 L276.32,115.81 L278.20,116.70 L280.10,117.58 L282.01,118.45 L283.94,119.31 L285.88,120.17 L287.83,121.02 L289.80,121.86 L291.78,122.70 L293.77,123.53 L295.78,124.35 L297.80,125.17 L299.84,125.98 L301.89,126.78 L303.96,127.58 L306.04,128.37 L308.13,129.15 L310.25,129.93 L312.37,130.70 L314.51,131.47 L316.67,132.23 L318.84,132.98 L321.03,133.72 L323.23,134.46 L325.45,135.20 L327.68,135.93 L329.93,136.65 L332.20,137.36 L334.48,138.08 L336.77,138.78 L339.09,139.48 L341.42,140.17 L343.77,140.86 L346.13,141.54 L348.51,142.22 L350.91,142.89 L353.32,143.55 L355.76,144.21 L358.20,144.87 L360.67,145.52 L363.16,146.16 L365.66,146.80 L368.18,147.43 L370.71,148.06 L373.27,148.68 L375.84,149.30 L378.43,149.91 L381.04,150.52 L383.67,151.12 L386.32,151.72 L388.99,152.31 L391.67,152.90 L394.38,153.48 L397.10,154.06 L399.84,154.64 L402.61,155.20 L405.39,155.77 L408.19,156.33 L411.01,156.88 L413.85,157.43" stroke="#5D6DC1"/>
<path d="M209.50,86.75 L210.91,87.86 L212.33,88.96 L213.76,90.06 L215.20,91.15 L216.65,92.22 L218.11,93.29 L219.58,94.36 L221.06,95.41 L222.55,96.45 L224.05,97.49 L225.57,98.52 L227.09,99.54 L228.62,100.55 L230.17,101.55 L231.73,102.55 L233.29,103.53 L234.87,104.51 L236.46,105.49 L238.06,106.45 L239.68,107.41 L241.30,108.35 L242.94,109.30 L244.58,110.23 L246.24,111.15 L247.91,112.07 L249.60,112.98 L251.29,113.89 L253.00,114.78 L254.72,115.67 L256.45,116.56 L258.19,117.43 L259.95,118.30 L261.71,119.16 L263.50,120.01 L265.29,120.86 L267.09,121.70 L268.91,122.54 L270.75,123.36 L272.59,124.18 L274.45,125.00 L276.32,125.80 L278.20,126.60 L280.10,127.40 L282.01,128.19 L283.94,128.97 L285.88,129.74 L287.83,130.51 L289.80,131.27 L291.78,132.03 L293.77,132.78 L295.78,133.52 L297.80,134.26 L299.84,134.99 L301.89,135.72 L303.96,136.44 L306.04,137.16 L308.13,137.86 L310.25,138.57 L312.37,139.26 L314.51,139.96 L316.67,140.64 L318.84,141.32 L321.03,142.00 L323.23,142.67 L325.45,143.33 L327.68,143.99 L329.93,144.64 L332.20,145.29 L334.48,145.93 L336.77,146.57 L339.09,147.20 L341.42,147.83 L343.77,148.45 L346.13,149.07 L348.51,149.68 L350.91,150.28 L353.32,150.89 L355.76,151.48 L358.20,152.07 L360.67,152.66 L363.16,153.24 L365.66,153.82 L368.18,154.39 L370.71,154.96 L373.27,155.52 L375.84,156.08 L378.43,156.64 L381.04,157.19 L383.67,157.73 L386.32,158.27 L388.99,158.81 L391.67,159.34 L394.38,159.87 L397.10,160.39 L399.84,160.91 L402.61,161.42 L405.39,161.93 L408.19,162.44 L411.01,162.94 L413.85,163.44" stroke="#F19700"/>
<path d="M209.50,138.50 L210.91,139.17 L212.33,139.84 L213.76,140.51 L215.20,141.17 L216.65,141.82 L218.11,142.47 L219.58,143.11 L221.06,143.75 L222.55,144.39 L224.05,145.02 L225.57,145.64 L227.09,146.26 L228.62,146.87 L230.17,147.48 L231.73,148.09 L233.29,148.69 L234.87,149.28 L236.46,149.87 L238.06,150.46 L239.68,151.04 L241.30,151.62 L242.94,152.19 L244.58,152.76 L246.24,153.32 L247.91,153.88 L249.60,154.43 L251.29,154.98 L253.00,155.53 L254.72,156.07 L256.45,156.61 L258.19,157.14 L259.95,157.67 L261.71,158.19 L263.50,158.71 L265.29,159.23 L267.09,159.74 L268.91,160.25 L270.75,160.75 L272.59,161.25 L274.45,161.74 L276.32,162.24 L278.20,162.72 L280.10,163.21 L282.01,163.69 L283.94,164.16 L285.88,164.64 L287.83,165.11 L289.80,165.57 L291.78,166.03 L293.77,166.49 L295.78,166.94 L297.80,167.39 L299.84,167.84 L301.89,168.28 L303.96,168.72 L306.04,169.16 L308.13,169.59 L310.25,170.02 L312.37,170.44 L314.51,170.87 L316.67,171.28 L318.84,171.70 L321.03,172.11 L323.23,172.52 L325.45,172.93 L327.68,173.33 L329.93,173.73 L332.20,174.12 L334.48,174.52 L336.77,174.90 L339.09,175.29 L341.42,175.67 L343.77,176.05 L346.13,176.43 L348.51,176.80 L350.91,177.18 L353.32,177.54 L355.76,177.91 L358.20,178.27 L360.67,178.63 L363.16,178.99 L365.66,179.34 L368.18,179.69 L370.71,180.04 L373.27,180.38 L375.84,180.72 L378.43,181.06 L381.04,181.40 L383.67,181.73 L386.32,182.06 L388.99,182.39 L391.67,182.72 L394.38,183.04 L397.10,183.36 L399.84,183.68 L402.61,183.99 L405.39,184.31 L408.19,184.62 L411.01,184.92 L413.85,185.23" stroke="#A541AF"/>
</g>
<rect x="211.5" y="62.0" width="200.35000000000002" height="123.5" fill="none" stroke="#666666" stroke-width="0.78"/>
<path d="M211.50,185.5 v-2.6 M211.50,62.0 v2.6 M221.52,185.5 v-1.6 M221.52,62.0 v1.6 M231.53,185.5 v-1.6 M231.53,62.0 v1.6 M241.55,185.5 v-1.6 M241.55,62.0 v1.6 M251.57,185.5 v-2.6 M251.57,62.0 v2.6 M261.59,185.5 v-1.6 M261.59,62.0 v1.6 M271.61,185.5 v-1.6 M271.61,62.0 v1.6 M281.62,185.5 v-1.6 M281.62,62.0 v1.6 M291.64,185.5 v-2.6 M291.64,62.0 v2.6 M301.66,185.5 v-1.6 M301.66,62.0 v1.6 M311.68,185.5 v-1.6 M311.68,62.0 v1.6 M321.69,185.5 v-1.6 M321.69,62.0 v1.6 M331.71,185.5 v-2.6 M331.71,62.0 v2.6 M341.73,185.5 v-1.6 M341.73,62.0 v1.6 M351.75,185.5 v-1.6 M351.75,62.0 v1.6 M361.76,185.5 v-1.6 M361.76,62.0 v1.6 M371.78,185.5 v-2.6 M371.78,62.0 v2.6 M381.80,185.5 v-1.6 M381.80,62.0 v1.6 M391.81,185.5 v-1.6 M391.81,62.0 v1.6 M401.83,185.5 v-1.6 M401.83,62.0 v1.6 M411.85,185.5 v-2.6 M411.85,62.0 v2.6 M211.5,185.50 h2.6 M411.85,185.50 h-2.6 M211.5,181.97 h1.6 M411.85,181.97 h-1.6 M211.5,178.44 h1.6 M411.85,178.44 h-1.6 M211.5,174.91 h1.6 M411.85,174.91 h-1.6 M211.5,171.39 h1.6 M411.85,171.39 h-1.6 M211.5,167.86 h2.6 M411.85,167.86 h-2.6 M211.5,164.33 h1.6 M411.85,164.33 h-1.6 M211.5,160.80 h1.6 M411.85,160.80 h-1.6 M211.5,157.27 h1.6 M411.85,157.27 h-1.6 M211.5,153.74 h1.6 M411.85,153.74 h-1.6 M211.5,150.21 h2.6 M411.85,150.21 h-2.6 M211.5,146.69 h1.6 M411.85,146.69 h-1.6 M211.5,143.16 h1.6 M411.85,143.16 h-1.6 M211.5,139.63 h1.6 M411.85,139.63 h-1.6 M211.5,136.10 h1.6 M411.85,136.10 h-1.6 M211.5,132.57 h2.6 M411.85,132.57 h-2.6 M211.5,129.04 h1.6 M411.85,129.04 h-1.6 M211.5,125.51 h1.6 M411.85,125.51 h-1.6 M211.5,121.99 h1.6 M411.85,121.99 h-1.6 M211.5,118.46 h1.6 M411.85,118.46 h-1.6 M211.5,114.93 h2.6 M411.85,114.93 h-2.6 M211.5,111.40 h1.6 M411.85,111.40 h-1.6 M211.5,107.87 h1.6 M411.85,107.87 h-1.6 M211.5,104.34 h1.6 M411.85,104.34 h-1.6 M211.5,100.81 h1.6 M411.85,100.81 h-1.6 M211.5,97.29 h2.6 M411.85,97.29 h-2.6 M211.5,93.76 h1.6 M411.85,93.76 h-1.6 M211.5,90.23 h1.6 M411.85,90.23 h-1.6 M211.5,86.70 h1.6 M411.85,86.70 h-1.6 M211.5,83.17 h1.6 M411.85,83.17 h-1.6 M211.5,79.64 h2.6 M411.85,79.64 h-2.6 M211.5,76.11 h1.6 M411.85,76.11 h-1.6 M211.5,72.59 h1.6 M411.85,72.59 h-1.6 M211.5,69.06 h1.6 M411.85,69.06 h-1.6 M211.5,65.53 h1.6 M411.85,65.53 h-1.6 M211.5,62.00 h2.6 M411.85,62.00 h-2.6" stroke="#666666" stroke-width="0.75" fill="none"/>
<g class="ls" font-size="18" fill="#000">
<text x="211.50" y="203.3" font-size="19" text-anchor="middle">10</text>
<text x="251.57" y="203.3" font-size="19" text-anchor="middle">12</text>
<text x="291.64" y="203.3" font-size="19" text-anchor="middle">14</text>
<text x="331.71" y="203.3" font-size="19" text-anchor="middle">16</text>
<text x="371.78" y="203.3" font-size="19" text-anchor="middle">18</text>
<text x="411.85" y="203.3" font-size="19" text-anchor="middle">20</text>
<text x="147.3" y="192.00">2</text>
<path d="M160.9,183.70 l8.3,8.3 m0,-8.3 l-8.3,8.3" stroke="#000" stroke-width="1.05" fill="none"/>
<text x="173.2" y="192.00" letter-spacing="0.5">10</text>
<path d="M192.2,181.80 h6.6" stroke="#000" stroke-width="0.85" fill="none"/>
<text transform="translate(199.9,184.80) scale(1.1,1)" font-size="12.5">6</text>
<text x="147.3" y="174.36">3</text>
<path d="M160.9,166.06 l8.3,8.3 m0,-8.3 l-8.3,8.3" stroke="#000" stroke-width="1.05" fill="none"/>
<text x="173.2" y="174.36" letter-spacing="0.5">10</text>
<path d="M192.2,164.16 h6.6" stroke="#000" stroke-width="0.85" fill="none"/>
<text transform="translate(199.9,167.16) scale(1.1,1)" font-size="12.5">6</text>
<text x="147.3" y="156.71">4</text>
<path d="M160.9,148.41 l8.3,8.3 m0,-8.3 l-8.3,8.3" stroke="#000" stroke-width="1.05" fill="none"/>
<text x="173.2" y="156.71" letter-spacing="0.5">10</text>
<path d="M192.2,146.51 h6.6" stroke="#000" stroke-width="0.85" fill="none"/>
<text transform="translate(199.9,149.51) scale(1.1,1)" font-size="12.5">6</text>
<text x="147.3" y="139.07">5</text>
<path d="M160.9,130.77 l8.3,8.3 m0,-8.3 l-8.3,8.3" stroke="#000" stroke-width="1.05" fill="none"/>
<text x="173.2" y="139.07" letter-spacing="0.5">10</text>
<path d="M192.2,128.87 h6.6" stroke="#000" stroke-width="0.85" fill="none"/>
<text transform="translate(199.9,131.87) scale(1.1,1)" font-size="12.5">6</text>
<text x="147.3" y="121.43">6</text>
<path d="M160.9,113.13 l8.3,8.3 m0,-8.3 l-8.3,8.3" stroke="#000" stroke-width="1.05" fill="none"/>
<text x="173.2" y="121.43" letter-spacing="0.5">10</text>
<path d="M192.2,111.23 h6.6" stroke="#000" stroke-width="0.85" fill="none"/>
<text transform="translate(199.9,114.23) scale(1.1,1)" font-size="12.5">6</text>
<text x="147.3" y="103.79">7</text>
<path d="M160.9,95.49 l8.3,8.3 m0,-8.3 l-8.3,8.3" stroke="#000" stroke-width="1.05" fill="none"/>
<text x="173.2" y="103.79" letter-spacing="0.5">10</text>
<path d="M192.2,93.59 h6.6" stroke="#000" stroke-width="0.85" fill="none"/>
<text transform="translate(199.9,96.59) scale(1.1,1)" font-size="12.5">6</text>
<text x="147.3" y="86.14">8</text>
<path d="M160.9,77.84 l8.3,8.3 m0,-8.3 l-8.3,8.3" stroke="#000" stroke-width="1.05" fill="none"/>
<text x="173.2" y="86.14" letter-spacing="0.5">10</text>
<path d="M192.2,75.94 h6.6" stroke="#000" stroke-width="0.85" fill="none"/>
<text transform="translate(199.9,78.94) scale(1.1,1)" font-size="12.5">6</text>
<text x="147.3" y="68.50">9</text>
<path d="M160.9,60.20 l8.3,8.3 m0,-8.3 l-8.3,8.3" stroke="#000" stroke-width="1.05" fill="none"/>
<text x="173.2" y="68.50" letter-spacing="0.5">10</text>
<path d="M192.2,58.30 h6.6" stroke="#000" stroke-width="0.85" fill="none"/>
<text transform="translate(199.9,61.30) scale(1.1,1)" font-size="12.5">6</text>
</g>
<g class="ls" font-size="19.2" font-weight="bold" fill="#000">
<line x1="35.2" y1="326" x2="57.6" y2="326" stroke="#E65C0E" stroke-width="1.9"/>
<path transform="translate(68.0,333.5)" d="M0.0,-4.9 C0.5,-7.0 1.6,-8.5 3.1,-8.5 C4.8,-8.5 5.7,-6.0 6.2,-2.7 L9.9,-8.9 L11.3,-8.5 L6.9,-1.0 C5.9,0.8 4.7,2.9 3.7,4.0 L1.7,3.3 C2.4,1.6 3.8,-0.4 4.2,-1.8 C3.8,-4.4 3.2,-6.3 2.3,-6.5 C1.4,-6.5 0.9,-5.8 0.6,-4.6 Z"/>
<path d="M85.60,326.15 h10.3 v1.6 h-10.3 Z M85.60,330.3 h10.3 v1.6 h-10.3 Z"/>
<text x="101.77" y="333.5">0</text>
<line x1="127.0" y1="326" x2="148.9" y2="326" stroke="#5D6DC1" stroke-width="1.9"/>
<path transform="translate(159.7,333.5)" d="M0.0,-4.9 C0.5,-7.0 1.6,-8.5 3.1,-8.5 C4.8,-8.5 5.7,-6.0 6.2,-2.7 L9.9,-8.9 L11.3,-8.5 L6.9,-1.0 C5.9,0.8 4.7,2.9 3.7,4.0 L1.7,3.3 C2.4,1.6 3.8,-0.4 4.2,-1.8 C3.8,-4.4 3.2,-6.3 2.3,-6.5 C1.4,-6.5 0.9,-5.8 0.6,-4.6 Z"/>
<path d="M177.30,326.15 h10.3 v1.6 h-10.3 Z M177.30,330.3 h10.3 v1.6 h-10.3 Z"/>
<text x="192.87" y="333.5">3</text>
<line x1="218.4" y1="326" x2="240.3" y2="326" stroke="#F19700" stroke-width="1.9"/>
<path transform="translate(251.0,333.5)" d="M0.0,-4.9 C0.5,-7.0 1.6,-8.5 3.1,-8.5 C4.8,-8.5 5.7,-6.0 6.2,-2.7 L9.9,-8.9 L11.3,-8.5 L6.9,-1.0 C5.9,0.8 4.7,2.9 3.7,4.0 L1.7,3.3 C2.4,1.6 3.8,-0.4 4.2,-1.8 C3.8,-4.4 3.2,-6.3 2.3,-6.5 C1.4,-6.5 0.9,-5.8 0.6,-4.6 Z"/>
<path d="M268.60,326.15 h10.3 v1.6 h-10.3 Z M268.60,330.3 h10.3 v1.6 h-10.3 Z"/>
<text x="284.17" y="333.5">30</text>
<line x1="319.8" y1="326" x2="341.6" y2="326" stroke="#A541AF" stroke-width="1.9"/>
<path transform="translate(352.8,333.5)" d="M0.0,-4.9 C0.5,-7.0 1.6,-8.5 3.1,-8.5 C4.8,-8.5 5.7,-6.0 6.2,-2.7 L9.9,-8.9 L11.3,-8.5 L6.9,-1.0 C5.9,0.8 4.7,2.9 3.7,4.0 L1.7,3.3 C2.4,1.6 3.8,-0.4 4.2,-1.8 C3.8,-4.4 3.2,-6.3 2.3,-6.5 C1.4,-6.5 0.9,-5.8 0.6,-4.6 Z"/>
<path d="M370.40,326.15 h10.3 v1.6 h-10.3 Z M370.40,330.3 h10.3 v1.6 h-10.3 Z"/>
<text x="385.57" y="333.5">300</text>
</g>
</svg>
</body></html>
